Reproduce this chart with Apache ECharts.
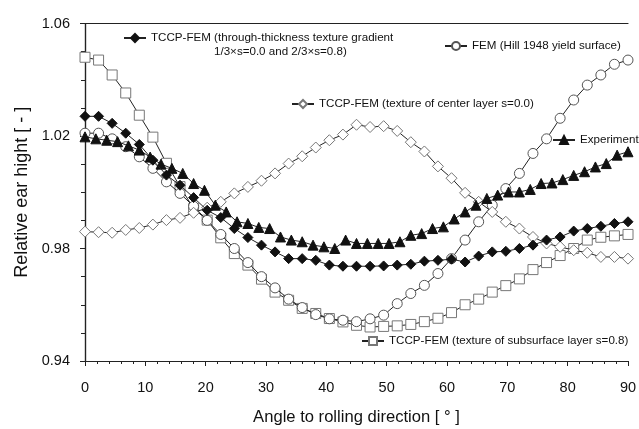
<!DOCTYPE html>
<html>
<head>
<meta charset="utf-8">
<script src="https://cdn.jsdelivr.net/npm/echarts@6/dist/echarts.min.js"></script>
<style>
html,body{margin:0;padding:0;background:#fff;}
#c{width:639px;height:429px;}
</style>
</head>
<body>
<div id="c"></div>
<script>
// ---- data ----
const anglesModel = [0, 2.25, 4.5, 6.75, 9, 11.25, 13.5, 15.75, 18, 20.25, 22.5, 24.75, 27, 29.25, 31.5, 33.75, 36, 38.25, 40.5, 42.75, 45, 47.25, 49.5, 51.75, 54, 56.25, 58.5, 60.75, 63, 65.25, 67.5, 69.75, 72, 74.25, 76.5, 78.75, 81, 83.25, 85.5, 87.75, 90];
const anglesExp = [0, 1.8, 3.6, 5.4, 7.2, 9, 10.8, 12.6, 14.4, 16.2, 18, 19.8, 21.6, 23.4, 25.2, 27, 28.8, 30.6, 32.4, 34.2, 36, 37.8, 39.6, 41.4, 43.2, 45, 46.8, 48.6, 50.4, 52.2, 54, 55.8, 57.6, 59.4, 61.2, 63, 64.8, 66.6, 68.4, 70.2, 72, 73.8, 75.6, 77.4, 79.2, 81, 82.8, 84.6, 86.4, 88.2, 90];

const gradient = [1.027, 1.027, 1.0245, 1.021, 1.017, 1.0114, 1.0061, 1.0025, 0.9981, 0.9936, 0.991, 0.9871, 0.9839, 0.9812, 0.9788, 0.9764, 0.9764, 0.9758, 0.9741, 0.9737, 0.9737, 0.9737, 0.9738, 0.9741, 0.9744, 0.9755, 0.9758, 0.9762, 0.9752, 0.9773, 0.9788, 0.979, 0.980, 0.9812, 0.983, 0.9841, 0.9862, 0.9871, 0.9879, 0.9889, 0.9895];
const hill = [1.021, 1.021, 1.019, 1.0162, 1.0126, 1.0085, 1.0037, 0.9996, 0.995, 0.990, 0.985, 0.980, 0.975, 0.970, 0.966, 0.962, 0.959, 0.9565, 0.955, 0.9545, 0.954, 0.955, 0.9563, 0.9604, 0.964, 0.9669, 0.9711, 0.9764, 0.983, 0.9895, 0.9954, 1.0013, 1.0067, 1.0138, 1.019, 1.0263, 1.0328, 1.0381, 1.0417, 1.0455, 1.047];
const center = [0.986, 0.9858, 0.9856, 0.9866, 0.9873, 0.9885, 0.9901, 0.9909, 0.9927, 0.9945, 0.9966, 0.9996, 1.0019, 1.0041, 1.0067, 1.0102, 1.0128, 1.0159, 1.0185, 1.0205, 1.024, 1.0232, 1.0235, 1.0218, 1.0178, 1.0145, 1.0092, 1.005, 0.9998, 0.9966, 0.993, 0.9895, 0.9871, 0.9841, 0.9818, 0.9806, 0.9794, 0.9785, 0.977, 0.977, 0.9764];
const subsurface = [1.048, 1.047, 1.0417, 1.0353, 1.0274, 1.0196, 1.0103, 1.002, 0.9942, 0.9901, 0.9838, 0.9782, 0.9741, 0.9691, 0.9645, 0.9616, 0.9587, 0.9569, 0.9551, 0.9539, 0.9527, 0.9521, 0.9523, 0.9525, 0.953, 0.954, 0.9552, 0.9572, 0.96, 0.962, 0.9645, 0.9668, 0.9692, 0.9725, 0.975, 0.9775, 0.98, 0.983, 0.984, 0.9845, 0.985];
const experiment = [1.0197, 1.019, 1.0185, 1.018, 1.0165, 1.015, 1.0125, 1.010, 1.0085, 1.0067, 1.0031, 1.0007, 0.9954, 0.993, 0.9895, 0.9889, 0.9875, 0.9871, 0.9841, 0.983, 0.9824, 0.9812, 0.9806, 0.980, 0.983, 0.9818, 0.9818, 0.9818, 0.9818, 0.9824, 0.9847, 0.9853, 0.9871, 0.9877, 0.9905, 0.993, 0.9954, 0.9978, 0.999, 1.0001, 1.0001, 1.001, 1.0031, 1.0033, 1.0045, 1.006, 1.0073, 1.009, 1.0102, 1.0132, 1.0144];

const names = {
  gradient: 'TCCP-FEM (through-thickness texture gradient',
  gradient2: '1/3\u00d7s=0.0 and 2/3\u00d7s=0.8)',
  hill: 'FEM (Hill 1948 yield surface)',
  center: 'TCCP-FEM (texture of center layer s=0.0)',
  experiment: 'Experiment',
  subsurface: 'TCCP-FEM (texture of subsurface layer s=0.8)'
};
const xTicks = [0, 10, 20, 30, 40, 50, 60, 70, 80, 90];
const yTicks = [0.94, 0.98, 1.02, 1.06];

// ---- chart ----
const FONT = "'Liberation Sans', Arial, sans-serif";
const zip = (xs, ys) => xs.map((x, i) => [x, ys[i]]);
const lineCol = '#222';

function mkSeries(name, xs, ys, symbol, size, fill, stroke, z) {
  return {
    name: name, type: 'line', data: zip(xs, ys),
    symbol: symbol, symbolSize: size, showSymbol: true,
    lineStyle: {color: lineCol, width: 1},
    itemStyle: {color: fill, borderColor: stroke, borderWidth: 1},
    emphasis: {disabled: true}, animation: false, z: z
  };
}

const chart = echarts.init(document.getElementById('c'), null, {renderer: 'canvas'});
const legendBase = {
  orient: 'horizontal', padding: 0, itemWidth: 22, itemHeight: 10, itemGap: 4,
  textStyle: {fontFamily: FONT, fontSize: 11.6, color: '#111'},
  selectedMode: false
};
chart.setOption({
  backgroundColor: '#fff',
  animation: false,
  grid: {left: 85, right: 11, top: 23.5, bottom: 68, containLabel: false, outerBoundsMode: 'none'},
  xAxis: [{
    type: 'value', min: 0, max: 90, interval: 10,
    axisLine: {show: true, lineStyle: {color: '#222', width: 1.2}},
    axisTick: {show: true, inside: false, length: 5, lineStyle: {color: '#222'}},
    minorTick: {show: true, splitNumber: 5, length: 3, lineStyle: {color: '#222'}},
    splitLine: {show: false},
    axisLabel: {fontFamily: FONT, fontSize: 14.5, color: '#111', margin: 19,
      formatter: v => (xTicks.indexOf(v) >= 0 ? String(v) : '')},
    name: 'Angle to rolling direction [ \u00b0 ]', nameLocation: 'middle', nameGap: 48,
    nameTextStyle: {fontFamily: FONT, fontSize: 16.6, color: '#111'}
  }, {
    type: 'value', position: 'top', min: 0, max: 90,
    axisLine: {show: true, lineStyle: {color: '#222', width: 1.2}},
    axisTick: {show: false}, axisLabel: {show: false}, splitLine: {show: false}
  }],
  yAxis: [{
    type: 'value', min: 0.94, max: 1.06, interval: 0.04,
    axisLine: {show: true, lineStyle: {color: '#222', width: 1.2}},
    axisTick: {show: true, inside: false, length: 5, lineStyle: {color: '#222'}},
    minorTick: {show: true, splitNumber: 4, length: 4, lineStyle: {color: '#222'}},
    splitLine: {show: false},
    axisLabel: {fontFamily: FONT, fontSize: 14.5, color: '#111', margin: 15,
      formatter: v => (yTicks.some(t => Math.abs(t - v) < 1e-6) ? v.toFixed(2) : '')},
    name: 'Relative ear hight [ - ]', nameLocation: 'middle', nameGap: 50, nameRotate: 90,
    nameTextStyle: {fontFamily: FONT, fontSize: 18, color: '#111'}
  }, {
    type: 'value', position: 'right', min: 0.94, max: 1.06,
    axisLine: {show: true, lineStyle: {color: '#222', width: 1.2}},
    axisTick: {show: false}, axisLabel: {show: false}, splitLine: {show: false}
  }],
  legend: [
    Object.assign({}, legendBase, {data: [names.gradient], left: 123, top: 32}),
    Object.assign({}, legendBase, {data: [names.hill], left: 444, top: 40}),
    Object.assign({}, legendBase, {data: [names.center], left: 291, top: 98}),
    Object.assign({}, legendBase, {data: [names.experiment], left: 552, top: 134}),
    Object.assign({}, legendBase, {data: [names.subsurface], left: 361, top: 335})
  ],
  graphic: [{
    type: 'text', left: 214, top: 46,
    style: {text: names.gradient2, font: '11.6px ' + FONT, fill: '#111'}
  }],
  series: [
    mkSeries(names.subsurface, anglesModel, subsurface, 'rect', 10, '#fff', '#777', 2),
    mkSeries(names.hill, anglesModel, hill, 'circle', 10, '#fff', '#555', 3),
    mkSeries(names.center, anglesModel, center, 'diamond', 11, '#fff', '#777', 4),
    mkSeries(names.experiment, anglesExp, experiment, 'triangle', 10, '#111', '#111', 5),
    mkSeries(names.gradient, anglesModel, gradient, 'diamond', 10, '#111', '#111', 6)
  ]
});
</script>
</body>
</html>
